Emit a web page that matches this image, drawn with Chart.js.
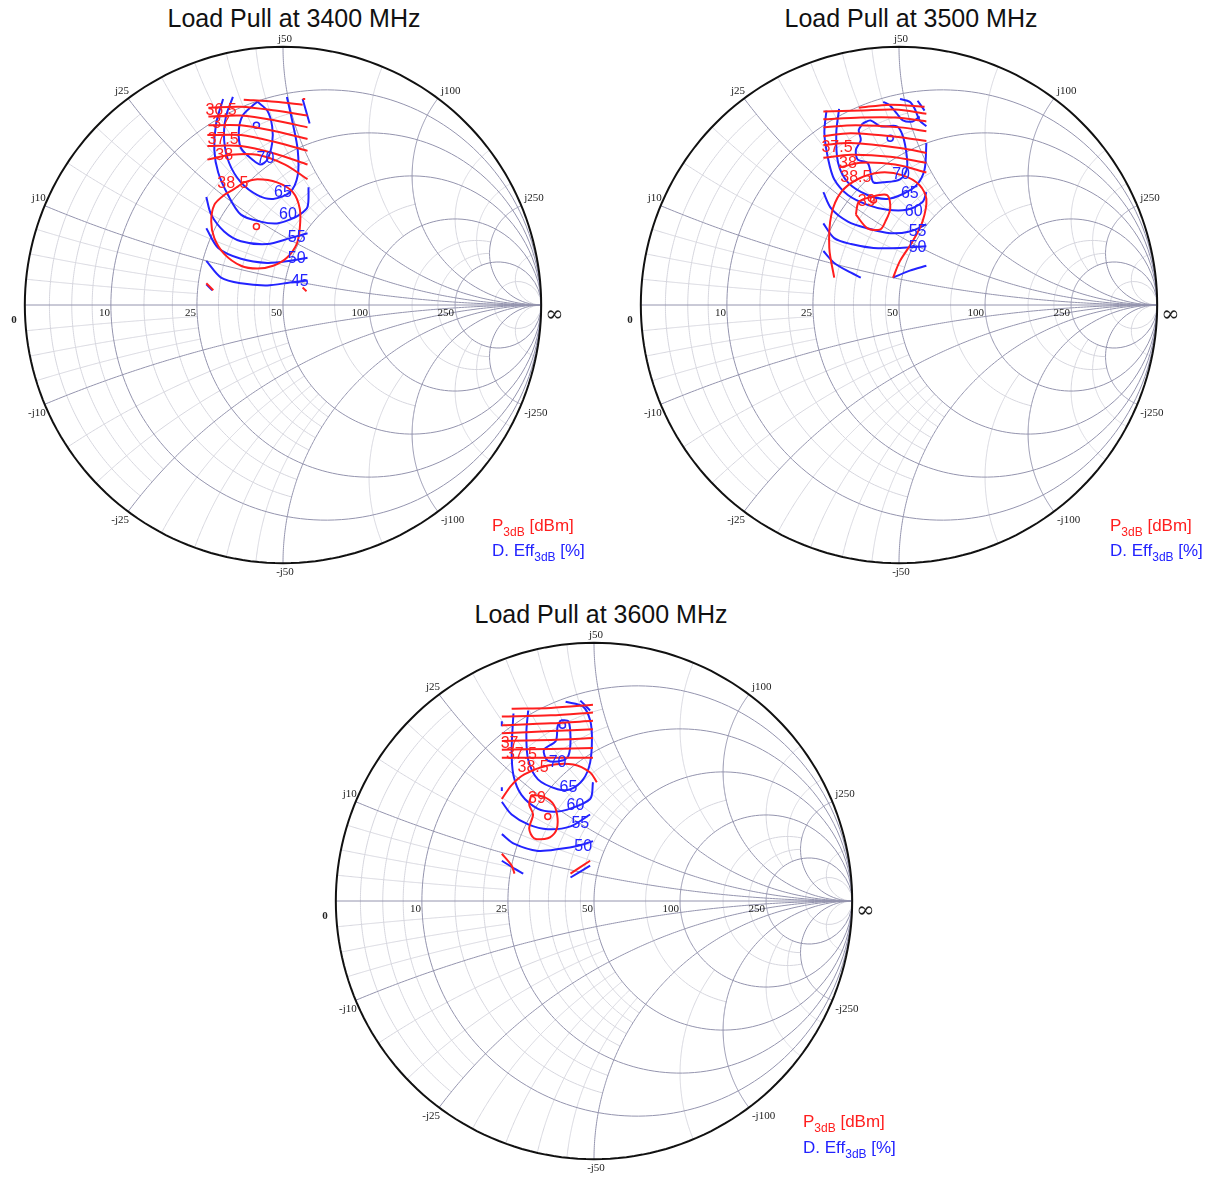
<!DOCTYPE html>
<html>
<head>
<meta charset="utf-8">
<script src="https://cdn.jsdelivr.net/npm/chart.js@4.4.4/dist/chart.umd.min.js"></script>
<style>
  html, body { margin: 0; padding: 0; background: #fff; overflow: hidden; }
  #page { position: relative; width: 1207px; height: 1179px; }
  canvas { position: absolute; }
  .title { position: absolute; width: 400px; text-align: center; font: 25px "Liberation Sans", Arial, sans-serif; color: #111; line-height: 28px; }
  .legend { position: absolute; font: 17px "Liberation Sans", Arial, sans-serif; line-height: 20px; white-space: nowrap; }
  .legend sub { font-size: 12px; vertical-align: -5px; line-height: 0; }
  .red { color: #ff1e1e; }
  .blue { color: #2323ff; }
</style>
</head>
<body>
<div id="page">
  <div class="title" style="left:94px;top:4px">Load Pull at 3400 MHz</div>
  <div class="title" style="left:711px;top:4px">Load Pull at 3500 MHz</div>
  <div class="title" style="left:401px;top:600px">Load Pull at 3600 MHz</div>

  <canvas id="lp3400" width="600" height="600" style="left:-17px;top:5px"></canvas>
  <canvas id="lp3500" width="600" height="600" style="left:599px;top:5px"></canvas>
  <canvas id="lp3600" width="600" height="600" style="left:294px;top:601px"></canvas>

  <div class="legend red" style="left:492px;top:516px">P<sub>3dB</sub> [dBm]</div>
  <div class="legend blue" style="left:492px;top:541px">D. Eff<sub>3dB</sub> [%]</div>
  <div class="legend red" style="left:1110px;top:516px">P<sub>3dB</sub> [dBm]</div>
  <div class="legend blue" style="left:1110px;top:541px">D. Eff<sub>3dB</sub> [%]</div>
  <div class="legend red" style="left:803px;top:1112px">P<sub>3dB</sub> [dBm]</div>
  <div class="legend blue" style="left:803px;top:1138px">D. Eff<sub>3dB</sub> [%]</div>
</div>

<script>
// ---- Smith chart grid (normalised to 50 ohm) ----
const majorR = [0.2, 0.5, 1, 2, 5];
const majorX = [0.2, 0.5, 1, 2, 5];
// [value, limit of the other coordinate]
const minorR = [[0.05, 0.5], [0.1, 0.5], [0.15, 0.5], [0.3, 1], [0.4, 1], [0.6, 1], [0.7, 1], [0.8, 1], [0.9, 1], [1.5, 2], [3, 5], [4, 5], [10, Infinity]];
const minorX = [[0.05, 0.5], [0.1, 0.5], [0.15, 0.5], [0.3, 1], [0.4, 1], [0.6, 1], [0.7, 1], [0.8, 1], [0.9, 1], [1.5, 2], [3, 5], [4, 5], [10, Infinity]];
const resLabels = [[0, '0'], [0.2, '10'], [0.5, '25'], [1, '50'], [2, '100'], [5, '250']];
const reacLabels = [[0.2, 'j10'], [0.5, 'j25'], [1, 'j50'], [2, 'j100'], [5, 'j250'],
                    [-0.2, '-j10'], [-0.5, '-j25'], [-1, '-j50'], [-2, '-j100'], [-5, '-j250']];

// ---- 3400 MHz (reflection coefficient, re / im) ----
const p3dB3400 = [
  [[-0.152, 0.795], [-0.030, 0.787], [0.076, 0.776]],
  [[-0.289, 0.764], [-0.163, 0.768], [-0.030, 0.753], [0.095, 0.734]],
  [[-0.289, 0.730], [-0.163, 0.734], [-0.030, 0.715], [0.095, 0.688]],
  [[-0.289, 0.696], [-0.163, 0.696], [-0.030, 0.673], [0.095, 0.643]],
  [[-0.293, 0.658], [-0.163, 0.658], [-0.030, 0.631], [0.095, 0.597]],
  [[-0.293, 0.616], [-0.163, 0.616], [-0.030, 0.586], [0.095, 0.544]],
  [[-0.293, 0.563], [-0.201, 0.582], [-0.099, 0.582], [0.008, 0.544], [0.095, 0.487]],
  [[-0.152, 0.475], [-0.099, 0.487], [-0.023, 0.475], [0.038, 0.437], [0.065, 0.373], [0.065, 0.297], [0.053, 0.236], [0.015, 0.183], [-0.038, 0.152], [-0.099, 0.141], [-0.163, 0.152], [-0.228, 0.198], [-0.266, 0.259], [-0.278, 0.323], [-0.266, 0.388], [-0.228, 0.426], [-0.190, 0.449], [-0.152, 0.475]],
  [[-0.297, 0.084], [-0.270, 0.057]],
  [[0.076, 0.068], [0.091, 0.053]],
  [[0.076, 0.798], [0.086, 0.798]]
];
const eff3400 = [
  [[-0.099, 0.787], [-0.061, 0.753], [-0.042, 0.692], [-0.042, 0.627], [-0.061, 0.563], [-0.087, 0.544], [-0.118, 0.563], [-0.163, 0.608], [-0.171, 0.677], [-0.156, 0.734], [-0.118, 0.772], [-0.099, 0.787]],
  [[-0.194, 0.806], [-0.221, 0.730], [-0.228, 0.639], [-0.209, 0.551], [-0.163, 0.475], [-0.099, 0.426], [-0.038, 0.411], [0.027, 0.437], [0.057, 0.502], [0.057, 0.601], [0.038, 0.703], [0.015, 0.806]],
  [[-0.232, 0.798], [-0.259, 0.703], [-0.266, 0.601], [-0.251, 0.513], [-0.213, 0.426], [-0.163, 0.350], [-0.087, 0.323], [-0.023, 0.316], [0.027, 0.331], [0.065, 0.350], [0.095, 0.380], [0.099, 0.456]],
  [[0.076, 0.798], [0.103, 0.703]],
  [[-0.297, 0.418], [-0.278, 0.350], [-0.228, 0.285], [-0.163, 0.247], [-0.061, 0.236], [0.027, 0.259], [0.095, 0.278]],
  [[-0.297, 0.297], [-0.251, 0.221], [-0.163, 0.179], [-0.061, 0.163], [0.027, 0.171], [0.095, 0.183]],
  [[-0.297, 0.171], [-0.240, 0.106], [-0.163, 0.084], [-0.061, 0.076], [0.027, 0.087], [0.095, 0.095]],
  [[-0.297, 0.080], [-0.274, 0.057]]
];
const p3dBLabels3400 = [['36.5', -0.240, 0.753], ['37', -0.240, 0.703], ['37.5', -0.232, 0.639], ['38', -0.228, 0.578], ['38.5', -0.194, 0.471]];
const effLabels3400 = [['70', -0.068, 0.567], ['65', 0.000, 0.437], ['60', 0.019, 0.350], ['55', 0.053, 0.262], ['50', 0.053, 0.179], ['45', 0.065, 0.091]];
const maxP3400 = [-0.103, 0.304];
const maxEff3400 = [-0.103, 0.696];

// ---- 3500 MHz ----
const p3dB3500 = [
  [[-0.156, 0.764], [-0.034, 0.776], [0.099, 0.768]],
  [[-0.293, 0.749], [-0.148, 0.753], [-0.015, 0.757], [0.106, 0.741]],
  [[-0.293, 0.719], [-0.148, 0.726], [-0.015, 0.726], [0.106, 0.711]],
  [[-0.293, 0.688], [-0.167, 0.696], [0.004, 0.688], [0.106, 0.673]],
  [[-0.293, 0.654], [-0.186, 0.665], [0.004, 0.650], [0.106, 0.635]],
  [[-0.293, 0.620], [-0.186, 0.627], [0.004, 0.608], [0.106, 0.589]],
  [[-0.293, 0.570], [-0.186, 0.582], [-0.034, 0.574], [0.106, 0.551]],
  [[-0.232, 0.532], [-0.148, 0.551], [-0.015, 0.544], [0.106, 0.513]],
  [[-0.251, 0.106], [-0.270, 0.221], [-0.262, 0.350], [-0.224, 0.437], [-0.160, 0.487], [-0.072, 0.513], [0.015, 0.502], [0.080, 0.464], [0.106, 0.411], [0.091, 0.323], [0.053, 0.247], [0.004, 0.171], [-0.023, 0.106]],
  [[-0.167, 0.350], [-0.156, 0.399], [-0.110, 0.418], [-0.046, 0.426], [-0.034, 0.373], [-0.053, 0.323], [-0.072, 0.293], [-0.122, 0.297], [-0.167, 0.350]]
];
const eff3500 = [
  [[-0.141, 0.703], [-0.110, 0.715], [-0.072, 0.692], [-0.008, 0.692], [0.015, 0.654], [0.030, 0.578], [0.030, 0.525], [0.004, 0.487], [-0.061, 0.475], [-0.099, 0.475], [-0.110, 0.513], [-0.122, 0.551], [-0.160, 0.563], [-0.167, 0.601], [-0.148, 0.639], [-0.156, 0.677], [-0.141, 0.703]],
  [[-0.232, 0.760], [-0.243, 0.665], [-0.236, 0.551], [-0.198, 0.475], [-0.122, 0.426], [-0.046, 0.411], [0.015, 0.430], [0.068, 0.464], [0.099, 0.525], [0.106, 0.627]],
  [[-0.281, 0.753], [-0.289, 0.665], [-0.274, 0.563], [-0.251, 0.487], [-0.198, 0.426], [-0.122, 0.388], [-0.046, 0.369], [0.030, 0.369], [0.091, 0.399], [0.106, 0.437]],
  [[-0.293, 0.437], [-0.262, 0.373], [-0.198, 0.323], [-0.122, 0.297], [-0.034, 0.278], [0.042, 0.285], [0.106, 0.312]],
  [[-0.293, 0.316], [-0.251, 0.259], [-0.186, 0.236], [-0.099, 0.221], [0.004, 0.221], [0.106, 0.228]],
  [[-0.293, 0.209], [-0.251, 0.163], [-0.186, 0.125], [-0.148, 0.106]],
  [[-0.023, 0.106], [0.042, 0.133], [0.106, 0.152]],
  [[-0.061, 0.787], [-0.034, 0.772], [-0.008, 0.741], [0.015, 0.715], [0.053, 0.711], [0.080, 0.730]],
  [[0.004, 0.798], [0.042, 0.787], [0.061, 0.760], [0.080, 0.715], [0.106, 0.692]],
  [[0.072, 0.791], [0.099, 0.753]]
];
const p3dBLabels3500 = [['37.5', -0.240, 0.608], ['38', -0.198, 0.548], ['38.5', -0.167, 0.494], ['39', -0.125, 0.399]];
const effLabels3500 = [['70', 0.008, 0.506], ['65', 0.042, 0.430], ['60', 0.057, 0.361], ['55', 0.072, 0.285], ['50', 0.072, 0.221]];
const maxP3500 = [-0.099, 0.407];
const maxEff3500 = [-0.034, 0.646];

// ---- 3600 MHz ----
const p3dB3600 = [
  [[-0.319, 0.745], [-0.167, 0.748], [-0.004, 0.760]],
  [[-0.357, 0.715], [-0.167, 0.719], [-0.004, 0.730]],
  [[-0.357, 0.681], [-0.167, 0.688], [-0.004, 0.698]],
  [[-0.357, 0.650], [-0.167, 0.658], [-0.004, 0.665]],
  [[-0.357, 0.620], [-0.167, 0.624], [-0.004, 0.631]],
  [[-0.357, 0.586], [-0.167, 0.589], [-0.004, 0.593]],
  [[-0.357, 0.555], [-0.167, 0.555], [-0.004, 0.555]],
  [[-0.357, 0.395], [-0.319, 0.449], [-0.270, 0.490], [-0.179, 0.525], [-0.080, 0.529], [-0.015, 0.498], [0.011, 0.460]],
  [[-0.243, 0.411], [-0.194, 0.403], [-0.156, 0.373], [-0.141, 0.319], [-0.148, 0.270], [-0.179, 0.243], [-0.232, 0.243], [-0.251, 0.281], [-0.236, 0.335], [-0.251, 0.373], [-0.243, 0.411]],
  [[-0.357, 0.183], [-0.319, 0.137], [-0.308, 0.106]],
  [[-0.091, 0.106], [-0.015, 0.156]]
];
const eff3600 = [
  [[-0.129, 0.700], [-0.099, 0.696], [-0.091, 0.624], [-0.099, 0.563], [-0.122, 0.544], [-0.179, 0.544], [-0.194, 0.586], [-0.148, 0.620], [-0.141, 0.677], [-0.129, 0.700]],
  [[-0.255, 0.738], [-0.262, 0.650], [-0.255, 0.548], [-0.217, 0.471], [-0.141, 0.433], [-0.091, 0.433], [-0.042, 0.471], [-0.015, 0.536], [-0.008, 0.631], [-0.015, 0.700], [-0.042, 0.753], [-0.110, 0.772]],
  [[-0.053, 0.776], [-0.015, 0.738]],
  [[-0.312, 0.726], [-0.319, 0.586], [-0.312, 0.487], [-0.281, 0.411], [-0.217, 0.357], [-0.156, 0.346], [-0.103, 0.354], [-0.015, 0.395], [-0.004, 0.460]],
  [[-0.357, 0.384], [-0.319, 0.335], [-0.255, 0.297], [-0.179, 0.278], [-0.091, 0.289], [-0.015, 0.335]],
  [[-0.357, 0.259], [-0.308, 0.221], [-0.217, 0.194], [-0.129, 0.202], [-0.065, 0.213], [-0.004, 0.232]],
  [[-0.357, 0.156], [-0.308, 0.125], [-0.274, 0.106]],
  [[-0.091, 0.091], [-0.015, 0.137]],
  [[-0.357, 0.696], [-0.357, 0.677]],
  [[-0.357, 0.441], [-0.357, 0.426]]
];
const p3dBLabels3600 = [['37', -0.327, 0.608], ['37.5', -0.281, 0.567], ['38.5', -0.236, 0.517], ['39', -0.221, 0.395]];
const effLabels3600 = [['70', -0.141, 0.536], ['65', -0.099, 0.441], ['60', -0.072, 0.369], ['55', -0.053, 0.300], ['50', -0.042, 0.209]];
const maxP3600 = [-0.179, 0.327];
const maxEff3600 = [-0.122, 0.681];

const RED = '#ff1e1e';
const BLUE = '#2323ff';
const GRID_MAJOR = '#9494ae';
const GRID_MINOR = '#d6d6de';
const RANGE = 300 / 263;

// z = r + jx  ->  gamma
function gam(r, x) {
  const d = (r + 1) * (r + 1) + x * x;
  return [(r * r + x * x - 1) / d, 2 * x / d];
}
function resArc(r, xm) {
  const a = Math.atan(xm), pts = [];
  for (let i = 0; i <= 200; i++) { const u = -a + 2 * a * i / 200; pts.push(gam(r, Math.tan(u))); }
  return pts;
}
function reacArc(x, rm) {
  const a = Math.atan(rm), pts = [];
  for (let i = 0; i <= 200; i++) { const u = a * i / 200; pts.push(gam(Math.tan(u), x)); }
  return pts;
}

const smithGrid = {
  id: 'smithGrid',
  beforeDatasetsDraw(chart) {
    const { ctx, scales: { x: sx, y: sy } } = chart;
    const line = (pts, color, w) => {
      ctx.beginPath();
      pts.forEach((g, i) => {
        const px = sx.getPixelForValue(g[0]), py = sy.getPixelForValue(g[1]);
        i ? ctx.lineTo(px, py) : ctx.moveTo(px, py);
      });
      ctx.strokeStyle = color; ctx.lineWidth = w; ctx.stroke();
    };
    ctx.save();
    minorR.forEach(([r, xm]) => line(resArc(r, xm), GRID_MINOR, 1));
    minorX.forEach(([x, rm]) => { line(reacArc(x, rm), GRID_MINOR, 1); line(reacArc(-x, rm), GRID_MINOR, 1); });
    majorR.forEach(r => line(resArc(r, Infinity), GRID_MAJOR, 1));
    majorX.forEach(x => { line(reacArc(x, Infinity), GRID_MAJOR, 1); line(reacArc(-x, Infinity), GRID_MAJOR, 1); });
    line([[-1, 0], [1, 0]], GRID_MAJOR, 1);
    line(resArc(0, Infinity), '#111', 2);

    // impedance labels
    ctx.fillStyle = '#222';
    ctx.font = '11px "Liberation Serif", "DejaVu Serif", serif';
    resLabels.forEach(([r, t]) => {
      const g = gam(r, 0);
      const px = sx.getPixelForValue(g[0]), py = sy.getPixelForValue(g[1]);
      ctx.textAlign = 'right'; ctx.textBaseline = 'middle';
      if (r === 0) {
        ctx.font = 'bold 11px "Liberation Serif", serif';
        ctx.fillText(t, px - 8, py + 15);
        ctx.font = '11px "Liberation Serif", serif';
        return;
      }
      ctx.fillText(t, px - 1, py + 8);
    });
    reacLabels.forEach(([x, t]) => {
      const g = gam(0, x);
      const px = sx.getPixelForValue(g[0]), py = sy.getPixelForValue(g[1]);
      ctx.textAlign = g[0] < -0.01 ? 'right' : g[0] > 0.01 ? 'left' : 'center';
      const dx = g[0] < -0.01 ? 1 : g[0] > 0.01 ? 3 : 2;
      if (x > 0) { ctx.textBaseline = 'bottom'; ctx.fillText(t, px + dx, py - 2); }
      else { ctx.textBaseline = 'top'; ctx.fillText(t, px + dx, py + 3); }
    });
    ctx.font = '22px "DejaVu Serif", serif';
    ctx.textAlign = 'left'; ctx.textBaseline = 'middle';
    ctx.fillText('\u221e', sx.getPixelForValue(1) + 4, sy.getPixelForValue(0) + 10);
    ctx.restore();
  }
};

const contourLabels = {
  id: 'contourLabels',
  afterDatasetsDraw(chart, args, opts) {
    const { ctx, scales: { x: sx, y: sy } } = chart;
    ctx.save();
    ctx.font = '16px "Liberation Sans", Arial, sans-serif';
    ctx.textAlign = 'center'; ctx.textBaseline = 'middle';
    [[opts.p, RED], [opts.eff, BLUE]].forEach(([list, color]) => {
      ctx.fillStyle = color;
      list.forEach(([t, gx, gy]) => ctx.fillText(t, sx.getPixelForValue(gx), sy.getPixelForValue(gy)));
    });
    ctx.restore();
  }
};

function contourSet(pts, color) {
  return { data: pts.map(p => ({ x: p[0], y: p[1] })), showLine: true, borderColor: color, borderWidth: 2,
           pointRadius: 0, tension: 0.3, fill: false };
}
function markerSet(p, color) {
  return { data: [{ x: p[0], y: p[1] }], showLine: false, pointRadius: 3, pointStyle: 'circle',
           borderColor: color, borderWidth: 1.5, backgroundColor: 'rgba(0,0,0,0)' };
}

function drawLoadPull(id, pList, effList, pLabels, effLabels, maxP, maxEff) {
  const datasets = [
    ...pList.map(c => contourSet(c, RED)),
    ...effList.map(c => contourSet(c, BLUE)),
    markerSet(maxP, RED),
    markerSet(maxEff, BLUE)
  ];
  return new Chart(document.getElementById(id), {
    type: 'scatter',
    data: { datasets },
    options: {
      responsive: false, animation: false, events: [],
      layout: { padding: 0 },
      plugins: { legend: { display: false }, tooltip: { enabled: false }, title: { display: false },
                 contourLabels: { p: pLabels, eff: effLabels } },
      scales: {
        x: { type: 'linear', min: -RANGE, max: RANGE, display: false },
        y: { type: 'linear', min: -RANGE, max: RANGE, display: false }
      }
    },
    plugins: [smithGrid, contourLabels]
  });
}

drawLoadPull('lp3400', p3dB3400, eff3400, p3dBLabels3400, effLabels3400, maxP3400, maxEff3400);
drawLoadPull('lp3500', p3dB3500, eff3500, p3dBLabels3500, effLabels3500, maxP3500, maxEff3500);
drawLoadPull('lp3600', p3dB3600, eff3600, p3dBLabels3600, effLabels3600, maxP3600, maxEff3600);
</script>
</body>
</html>
